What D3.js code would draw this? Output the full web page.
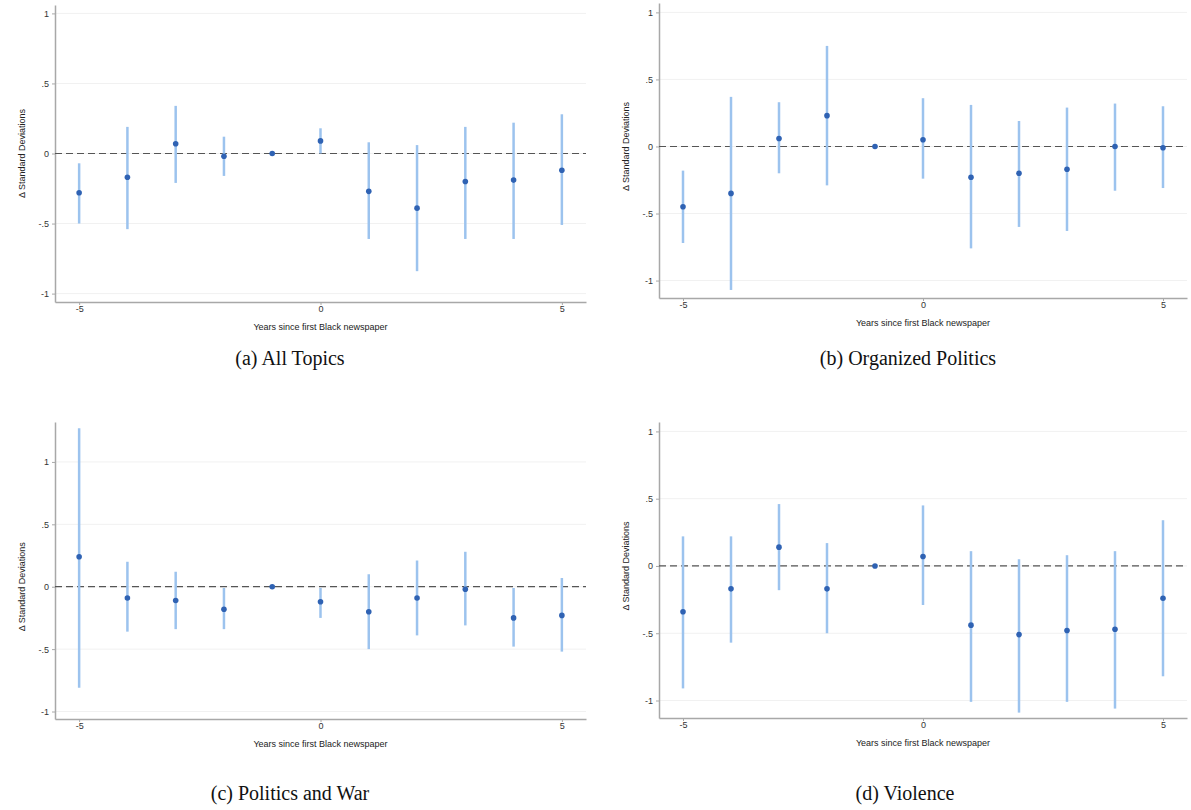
<!DOCTYPE html>
<html>
<head>
<meta charset="utf-8">
<script src="https://cdn.jsdelivr.net/npm/d3@7"></script>
<style>
  body { margin: 0; background: #fff; }
  svg { display: block; }
  .tick text { font-family: "Liberation Sans", Arial, sans-serif; font-size: 9px; fill: #333; }
  .axis path, .axis line { stroke: #a8a8a8; }
  .ttl { font-family: "Liberation Sans", Arial, sans-serif; font-size: 9px; fill: #222; }
  .cap { font-family: "Liberation Serif", "DejaVu Serif", serif; font-size: 20px; fill: #111; }
</style>
</head>
<body>
<script>
// event-study estimates, years since first Black newspaper
var years = [-5, -4, -3, -2, -1, 0, 1, 2, 3, 4, 5];
var yTicks = [-1, -0.5, 0, 0.5, 1];
var xTicks = [-5, 0, 5];

var allEst = [-0.28, -0.17, 0.07, -0.02, 0, 0.09, -0.27, -0.39, -0.20, -0.19, -0.12];
var allLo  = [-0.50, -0.54, -0.21, -0.16, 0, 0.00, -0.61, -0.84, -0.61, -0.61, -0.51];
var allHi  = [-0.07, 0.19, 0.34, 0.12, 0, 0.18, 0.08, 0.06, 0.19, 0.22, 0.28];

var orgEst = [-0.45, -0.35, 0.06, 0.23, 0, 0.05, -0.23, -0.20, -0.17, 0.00, -0.01];
var orgLo  = [-0.72, -1.07, -0.20, -0.29, 0, -0.24, -0.76, -0.60, -0.63, -0.33, -0.31];
var orgHi  = [-0.18, 0.37, 0.33, 0.75, 0, 0.36, 0.31, 0.19, 0.29, 0.32, 0.30];

var warEst = [0.24, -0.09, -0.11, -0.18, 0, -0.12, -0.20, -0.09, -0.02, -0.25, -0.23];
var warLo  = [-0.81, -0.36, -0.34, -0.34, 0, -0.25, -0.50, -0.39, -0.31, -0.48, -0.52];
var warHi  = [1.27, 0.20, 0.12, -0.01, 0, -0.01, 0.10, 0.21, 0.28, -0.01, 0.07];

var vioEst = [-0.34, -0.17, 0.14, -0.17, 0, 0.07, -0.44, -0.51, -0.48, -0.47, -0.24];
var vioLo  = [-0.91, -0.57, -0.18, -0.50, 0, -0.29, -1.01, -1.09, -1.01, -1.06, -0.82];
var vioHi  = [0.22, 0.22, 0.46, 0.17, 0, 0.45, 0.11, 0.05, 0.08, 0.11, 0.34];

var captions = ["(a) All Topics", "(b) Organized Politics", "(c) Politics and War", "(d) Violence"];

var panels = [
  { est: allEst, lo: allLo, hi: allHi, cap: captions[0], xr: [55, 586], yd: [-1.06, 1.06], yr: [302, 5], capX: 290, capY: 365 },
  { est: orgEst, lo: orgLo, hi: orgHi, cap: captions[1], xr: [659, 1187], yd: [-1.13, 1.07], yr: [298, 3], capX: 908, capY: 365 },
  { est: warEst, lo: warLo, hi: warHi, cap: captions[2], xr: [55, 586], yd: [-1.06, 1.32], yr: [719, 422], capX: 290, capY: 800 },
  { est: vioEst, lo: vioLo, hi: vioHi, cap: captions[3], xr: [659, 1187], yd: [-1.13, 1.07], yr: [718, 422], capX: 905, capY: 800 }
];

// stata style labels: plain hyphen, no leading zero
function fmt(d) {
  return String(d).replace("0.", ".");
}

var svg = d3.select("body").append("svg")
    .attr("width", 1191)
    .attr("height", 810);

panels.forEach(function (p) {
  var x = d3.scaleLinear().domain([-5.5, 5.5]).range(p.xr);
  var y = d3.scaleLinear().domain(p.yd).range(p.yr);
  var g = svg.append("g");

  // faint gridlines
  g.selectAll(".grid").data(yTicks).enter().append("line")
      .attr("x1", p.xr[0]).attr("x2", p.xr[1])
      .attr("y1", function (d) { return y(d); })
      .attr("y2", function (d) { return y(d); })
      .attr("stroke", "#f1f1f1")
      .attr("stroke-width", 1);

  var yAxis = d3.axisLeft(y).tickValues(yTicks).tickSize(3).tickSizeOuter(0).tickFormat(fmt);
  g.append("g").attr("class", "axis")
      .attr("transform", "translate(" + p.xr[0] + ",0)")
      .call(yAxis)
      .call(function (s) { s.select(".domain").attr("stroke-width", 1.5); });

  var xAxis = d3.axisBottom(x).tickValues(xTicks).tickSize(3).tickSizeOuter(0).tickPadding(1).tickFormat(fmt);
  g.append("g").attr("class", "axis")
      .attr("transform", "translate(0," + p.yr[0] + ")")
      .call(xAxis)
      .call(function (s) { s.select(".domain").attr("stroke-width", 1.5); });

  // zero reference line
  g.append("line")
      .attr("x1", p.xr[0]).attr("x2", p.xr[1])
      .attr("y1", y(0)).attr("y2", y(0))
      .attr("stroke", "#555")
      .attr("stroke-width", 1.2)
      .attr("stroke-dasharray", "7,4");

  // confidence intervals
  g.selectAll(".ci").data(years).enter().append("line")
      .attr("x1", function (d) { return x(d); })
      .attr("x2", function (d) { return x(d); })
      .attr("y1", function (d, i) { return y(p.lo[i]); })
      .attr("y2", function (d, i) { return y(p.hi[i]); })
      .attr("stroke", "#9cc3ee")
      .attr("stroke-width", 2.5);

  g.selectAll(".pt").data(years).enter().append("circle")
      .attr("cx", function (d) { return x(d); })
      .attr("cy", function (d, i) { return y(p.est[i]); })
      .attr("r", 2.8)
      .attr("fill", "#2f62b3");

  g.append("text").attr("class", "ttl")
      .attr("x", (p.xr[0] + p.xr[1]) / 2)
      .attr("y", p.yr[0] + 28)
      .attr("text-anchor", "middle")
      .text("Years since first Black newspaper");

  var midY = (y(1) + y(-1)) / 2;
  g.append("text").attr("class", "ttl")
      .attr("transform", "translate(" + (p.xr[0] - 30) + "," + midY + ") rotate(-90)")
      .attr("text-anchor", "middle")
      .text("\u0394 Standard Deviations");

  svg.append("text").attr("class", "cap")
      .attr("x", p.capX)
      .attr("y", p.capY)
      .attr("text-anchor", "middle")
      .text(p.cap);
});
</script>
</body>
</html>
